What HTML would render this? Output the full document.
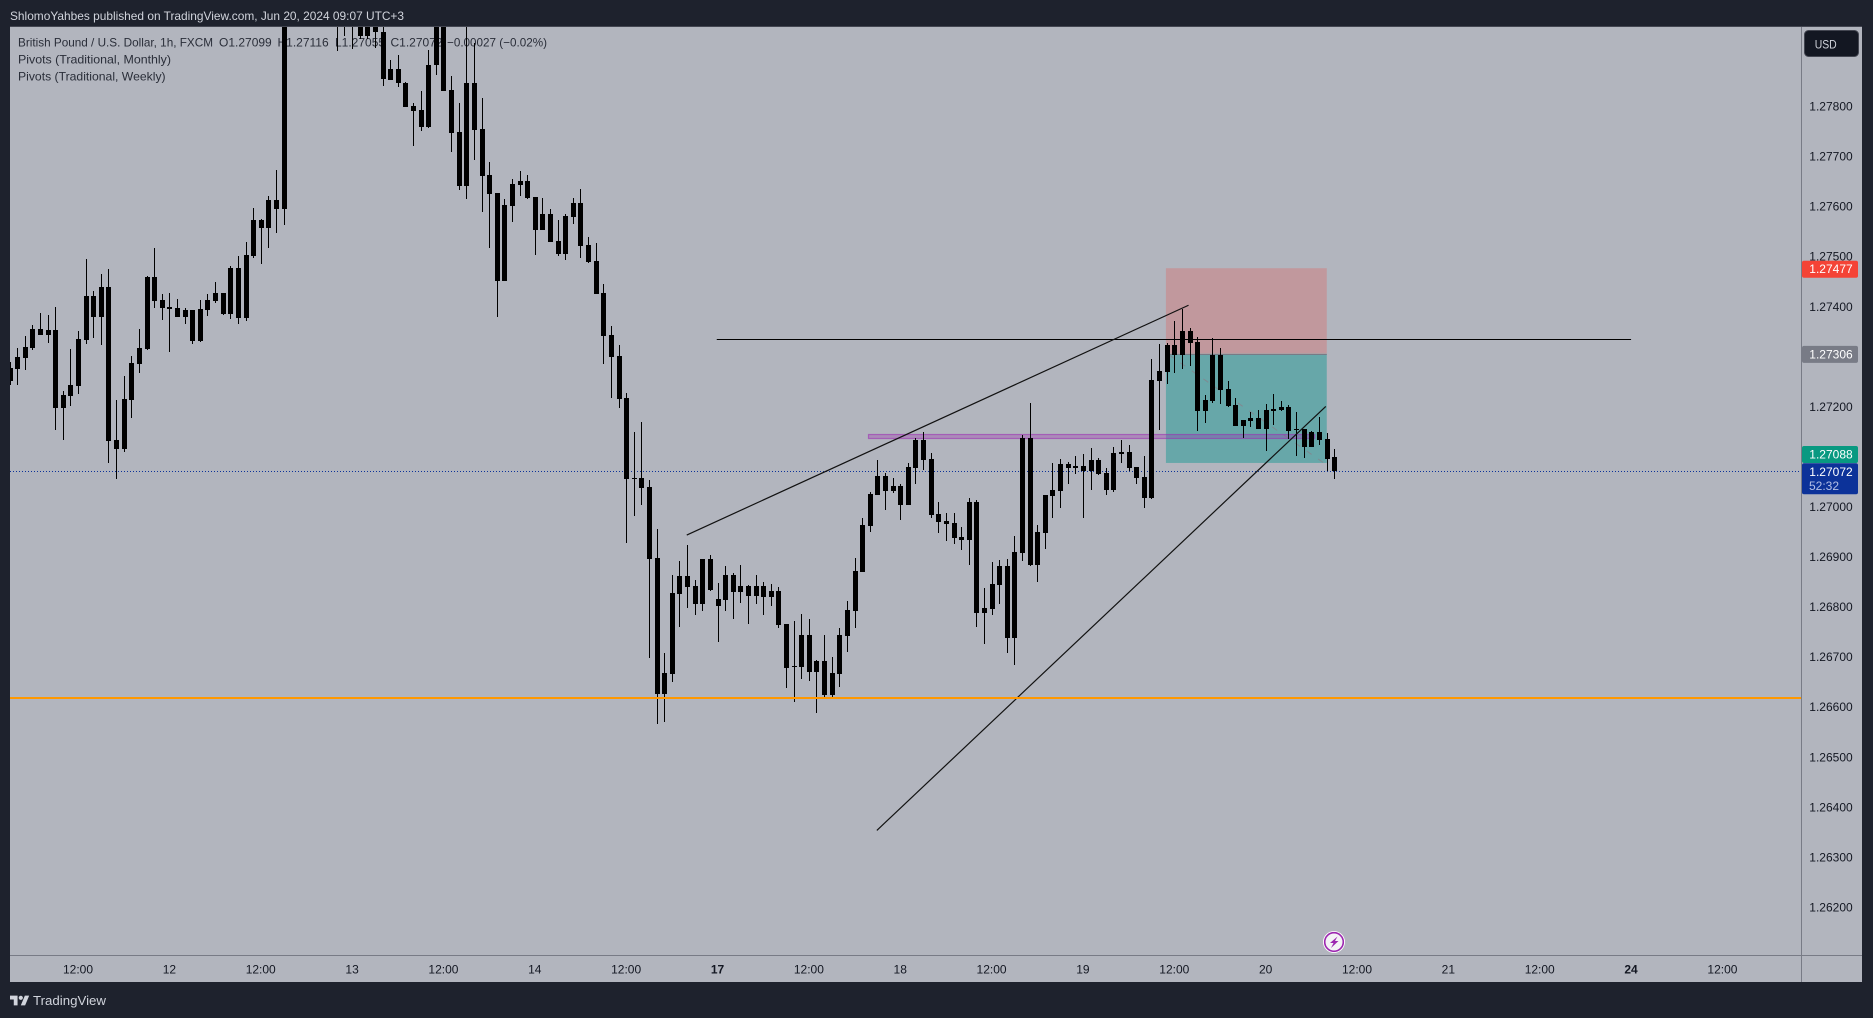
<!DOCTYPE html>
<html lang="en">
<head>
<meta charset="utf-8">
<title>GBPUSD 1h chart</title>
<style>
html,body{margin:0;padding:0;width:1873px;height:1018px;overflow:hidden;background:#1e222d;}
svg{display:block;font-family:"Liberation Sans",sans-serif;}
</style>
</head>
<body>
<svg id="chart" xmlns="http://www.w3.org/2000/svg" width="1873" height="1018" viewBox="0 0 1873 1018">
  <defs><clipPath id="paneClip"><rect x="10" y="27" width="1791" height="928"/></clipPath></defs>
  <rect x="0" y="0" width="1873" height="1018" fill="#1e222d"/>
  <rect x="10" y="27" width="1791" height="928" fill="#b2b5be"/>
  <rect x="1802" y="27" width="60" height="955" fill="#b2b5be"/>
  <rect x="10" y="956" width="1852" height="26" fill="#b2b5be"/>
  <text x="10" y="20" font-size="12" fill="#d1d4dc" textLength="394" lengthAdjust="spacingAndGlyphs">ShlomoYahbes published on TradingView.com, Jun 20, 2024 09:07 UTC+3</text>
  <g font-size="12" fill="#2a2e39">
    <text x="18" y="46.5" textLength="195" lengthAdjust="spacingAndGlyphs">British Pound / U.S. Dollar, 1h, FXCM</text>
    <text x="219" y="46.5">O1.27099</text>
    <text x="277.5" y="46.5">H1.27116</text>
    <text x="335" y="46.5">L1.27055</text>
    <text x="390.5" y="46.5">C1.27072</text>
    <text x="447" y="46.5" textLength="100" lengthAdjust="spacingAndGlyphs">−0.00027 (−0.02%)</text>
    <text x="18" y="63.5" textLength="153" lengthAdjust="spacingAndGlyphs">Pivots (Traditional, Monthly)</text>
    <text x="18" y="80.5" textLength="147.6" lengthAdjust="spacingAndGlyphs">Pivots (Traditional, Weekly)</text>
  </g>
  <g id="drawingsBelow" clip-path="url(#paneClip)"></g>
  <g id="candles" clip-path="url(#paneClip)" shape-rendering="crispEdges"></g>
  <g id="drawingsAbove" clip-path="url(#paneClip)"></g>
  <rect x="1801" y="27" width="1" height="955" fill="#787b86"/>
  <rect x="10" y="955" width="1852" height="1" fill="#787b86"/>
  <rect x="10" y="26" width="1852" height="1" fill="#434651"/>
  <g id="priceLabels" font-size="12" fill="#131722" text-anchor="middle"></g>
  <g id="timeLabels" font-size="12" fill="#131722" text-anchor="middle"></g>
  <g id="tags" font-size="12" text-anchor="middle"></g>
  <g>
    <rect x="1804.5" y="30.5" width="54" height="26" rx="4" fill="#131722" stroke="#434651"/>
    <text x="1814.7" y="48.5" font-size="12" fill="#d1d4dc" textLength="22" lengthAdjust="spacingAndGlyphs">USD</text>
  </g>
  <g>
    <circle cx="1334" cy="942" r="11" fill="#ffffff"/>
    <circle cx="1334" cy="942" r="9.3" fill="#f4f2f6" stroke="#9c27b0" stroke-width="1.6"/>
    <path d="M1337.5 936.5L1330 943H1333.5L1331 948L1338.5 941H1335Z" fill="#9c27b0"/>
  </g>
  <g>
    <path transform="translate(10 993.5) scale(0.54)" d="M14 22H7V11H0V4h14v18zM28 22h-8l7.5-18h8L28 22z" fill="#d1d4dc"/>
    <circle cx="20.8" cy="997.8" r="2.1" fill="#d1d4dc"/>
    <text x="33" y="1005" font-size="13" fill="#d1d4dc" textLength="73" lengthAdjust="spacingAndGlyphs">TradingView</text>
  </g>
</svg>
<script>
const opens = [
1.27252,1.27276,1.27298,1.27318,1.27355,1.27344,1.27353,1.27198,1.27222,1.27242,
1.27334,1.27421,1.2738,1.27439,1.27134,1.27116,1.27214,1.27286,1.27316,1.27459,
1.27413,1.27399,1.27397,1.2738,1.27393,1.27332,1.27394,1.27412,1.27427,1.27386,
1.27477,1.27378,1.27502,1.27573,1.27558,1.27614,1.27596,1.2801,1.2804,1.28075,
1.28045,1.2802,1.2804,1.2801,1.2799,1.27985,1.27975,1.27985,1.27948,1.27949,
1.27853,1.27875,1.27847,1.27801,1.27794,1.2776,1.27882,1.28,1.27833,1.27749,
1.27642,1.27846,1.27755,1.27663,1.27627,1.27452,1.27602,1.27644,1.27651,1.27619,
1.27554,1.27585,1.27531,1.27506,1.2758,1.27607,1.27523,1.27491,1.27427,1.27344,
1.27302,1.27218,1.27057,1.27058,1.2704,1.26898,1.26626,1.26666,1.26826,1.26862,
1.26842,1.26806,1.26896,1.26816,1.26814,1.26864,1.2683,1.26842,1.26822,1.26842,
1.2682,1.26832,1.26766,1.2668,1.2668,1.26744,1.2667,1.26692,1.26624,1.26666,
1.26742,1.26792,1.2687,1.26962,1.27024,1.27062,1.27032,1.27042,1.27004,1.27078,
1.27134,1.27096,1.26986,1.26972,1.26968,1.2694,1.26934,1.2701,1.26788,1.26796,
1.26844,1.26882,1.26738,1.26908,1.27138,1.26884,1.26948,1.27022,1.27032,1.27086,
1.27078,1.27082,1.27072,1.27094,1.27068,1.27034,1.27106,1.2711,1.2708,1.2706,
1.27018,1.27252,1.2727,1.27324,1.27304,1.27352,1.2733,1.27192,1.27212,1.27304,
1.27236,1.27204,1.27162,1.27172,1.27178,1.27156,1.27192,1.27194,1.272,1.27154,
1.27156,1.2712,1.2715,1.27136,1.27099];
const highs = [
1.27289,1.27317,1.27342,1.27363,1.27388,1.27383,1.27399,1.27231,1.27316,1.27352,
1.27495,1.27432,1.27466,1.27475,1.27214,1.27262,1.27302,1.27356,1.27461,1.27518,
1.27426,1.27428,1.27416,1.27397,1.27393,1.27414,1.27426,1.2745,1.27427,1.27482,
1.27502,1.2753,1.27597,1.27575,1.27622,1.27674,1.2804,1.2806,1.2809,1.281,
1.2807,1.2806,1.28065,1.2804,1.2802,1.28005,1.27995,1.28,1.27985,1.27965,
1.27892,1.27902,1.27849,1.27807,1.27832,1.27912,1.2801,1.2802,1.2786,1.27808,
1.27985,1.27927,1.27818,1.2769,1.27627,1.27615,1.27655,1.27671,1.27663,1.27619,
1.27618,1.27595,1.27574,1.27585,1.27617,1.27635,1.27539,1.27527,1.27445,1.27362,
1.27324,1.27228,1.2715,1.2717,1.27054,1.26956,1.26708,1.26864,1.26892,1.26924,
1.26854,1.26896,1.26904,1.26848,1.26882,1.26868,1.26884,1.26844,1.26864,1.2685,
1.26846,1.2684,1.26766,1.26772,1.26786,1.26776,1.26694,1.26744,1.267,1.26758,
1.26812,1.26898,1.26978,1.2703,1.27094,1.27068,1.27058,1.27046,1.27088,1.27138,
1.2715,1.27108,1.2701,1.26988,1.26988,1.2696,1.27018,1.27014,1.26838,1.2689,
1.26894,1.26896,1.26942,1.27144,1.27208,1.26964,1.27024,1.27088,1.27096,1.2709,
1.27102,1.27106,1.27118,1.27098,1.27078,1.2712,1.27134,1.27124,1.2708,1.27102,
1.27296,1.27326,1.27328,1.27372,1.27396,1.27358,1.2734,1.27224,1.27338,1.27318,
1.27252,1.27218,1.27174,1.2719,1.27194,1.27206,1.27226,1.27212,1.27204,1.2719,
1.27156,1.27152,1.2718,1.27148,1.27116];
const lows = [
1.27244,1.27244,1.27274,1.27314,1.27344,1.27328,1.27154,1.27134,1.27202,1.27226,
1.27326,1.27338,1.27324,1.27088,1.27056,1.2711,1.27178,1.27268,1.27314,1.27398,
1.27374,1.2731,1.2738,1.27366,1.27326,1.2733,1.27382,1.27408,1.27384,1.27376,
1.27366,1.27372,1.27498,1.27486,1.27518,1.27548,1.27564,1.27985,1.2802,1.2803,
1.28,1.2799,1.28,1.27911,1.27941,1.27914,1.27934,1.27935,1.27917,1.2784,
1.27852,1.27838,1.278,1.27722,1.27752,1.27758,1.27862,1.27832,1.2771,1.27634,
1.27616,1.27694,1.2759,1.27518,1.2738,1.27452,1.2757,1.27622,1.27616,1.27504,
1.27554,1.2753,1.27502,1.27494,1.27566,1.27498,1.27488,1.27426,1.27286,1.27218,
1.27198,1.26928,1.26982,1.27004,1.26698,1.26566,1.2657,1.2665,1.2676,1.26798,
1.26784,1.26792,1.26832,1.2673,1.26792,1.26776,1.26808,1.26766,1.26806,1.26784,
1.26802,1.26758,1.26638,1.2661,1.26656,1.26652,1.26588,1.26618,1.26618,1.2664,
1.2671,1.26758,1.2687,1.2695,1.27024,1.26994,1.27028,1.26974,1.27004,1.27046,
1.27074,1.26978,1.26948,1.26932,1.26926,1.26914,1.26884,1.2676,1.26726,1.26784,
1.26806,1.26708,1.26684,1.26892,1.26882,1.2685,1.26916,1.26978,1.26998,1.27046,
1.27066,1.26978,1.27034,1.27064,1.27024,1.2703,1.27088,1.27072,1.27046,1.26998,
1.27016,1.27154,1.27246,1.27268,1.27276,1.27282,1.27152,1.27168,1.27208,1.27206,
1.272,1.27162,1.27138,1.2716,1.27156,1.27112,1.27164,1.27192,1.27136,1.27102,
1.27098,1.2712,1.27124,1.27072,1.27055];
const closes = [
1.27277,1.27299,1.27319,1.27355,1.27344,1.27353,1.27198,1.27223,1.27243,1.27335,
1.27421,1.2738,1.27439,1.27132,1.27116,1.27215,1.27287,1.27317,1.27459,1.27412,
1.27398,1.27396,1.2738,1.27393,1.27332,1.27395,1.27413,1.27427,1.27386,1.27477,
1.27378,1.27503,1.27573,1.27558,1.27614,1.27596,1.2801,1.2804,1.28075,1.28045,
1.2802,1.2804,1.2801,1.2799,1.27985,1.27975,1.2794,1.2794,1.27975,1.27854,
1.27875,1.27846,1.278,1.27792,1.2776,1.27883,1.28,1.27832,1.27748,1.27642,
1.27846,1.27754,1.27662,1.27626,1.27452,1.27603,1.27645,1.27651,1.27618,1.27554,
1.27585,1.2753,1.27506,1.27581,1.27607,1.27522,1.2749,1.27426,1.27342,1.273,
1.27216,1.27056,1.27055,1.27038,1.26896,1.26626,1.26668,1.26828,1.26862,1.2684,
1.26806,1.26896,1.26834,1.26802,1.26864,1.2683,1.26842,1.26822,1.26842,1.2682,
1.26832,1.26764,1.26678,1.26682,1.26744,1.2667,1.26692,1.26624,1.26668,1.26744,
1.26794,1.26872,1.26964,1.27026,1.27062,1.27032,1.27042,1.27004,1.2708,1.27134,
1.27094,1.26984,1.2697,1.26966,1.26938,1.26934,1.2701,1.26788,1.26798,1.26846,
1.26882,1.26738,1.2691,1.27138,1.26884,1.2695,1.27024,1.27034,1.27086,1.27078,
1.27082,1.27072,1.27094,1.27066,1.27034,1.27108,1.2711,1.27078,1.27058,1.27018,
1.27254,1.27272,1.27324,1.27304,1.27352,1.27328,1.27192,1.27214,1.27304,1.27234,
1.27202,1.27162,1.27174,1.27178,1.27156,1.27194,1.27196,1.272,1.27152,1.27156,
1.2712,1.2715,1.27134,1.27096,1.27072];
const priceTicks = [1.278,1.277,1.276,1.275,1.274,1.273,1.272,1.271,1.27,1.269,1.268,1.267,1.266,1.265,1.264,1.263,1.262];
const timeLabelBars = [9,21,33,45,57,69,81,93,105,117,129,141,153,165,177,189,201,213,225];
const timeLabelText = ["12:00","12","12:00","13","12:00","14","12:00","17","12:00","18","12:00","19","12:00","20","12:00","21","12:00","24","12:00"];
const boldTimeLabels = ["17","24"];
const stopPrice = 1.27477;
const entryPrice = 1.27306;
const targetPrice = 1.27088;
const lastPrice = 1.27072;
const countdownText = "52:32";
const positionBars = [151.9, 173.03];
const resistancePrice = 1.27335;
const resistanceBars = [92.9, 213];
const pivotBandPrices = [1.27144, 1.27136];
const pivotBandBars = [112.8, 171.4];
const supportPrice = 1.26618;
const upperTrendBars = [88.96, 154.87];
const upperTrendPrices = [1.26944, 1.27403];
const lowerTrendBars = [113.93, 172.9];
const lowerTrendPrices = [1.26354, 1.27201];

const xOf = function (bar) { return 9.5 + bar * 7.613; };
const yOf = function (price) { return 507 + (1.27 - price) * 50060; };
const NS = 'http://www.w3.org/2000/svg';
function mk(parent, tag, attrs) {
  const el = document.createElementNS(NS, tag);
  for (const k in attrs) el.setAttribute(k, attrs[k]);
  parent.appendChild(el);
  return el;
}

const below = document.getElementById('drawingsBelow');
const above = document.getElementById('drawingsAbove');
const candleGroup = document.getElementById('candles');

// long position tool
const boxL = xOf(positionBars[0]);
const boxR = xOf(positionBars[1]);
const stopBox = mk(below, 'rect', {x: boxL, y: yOf(stopPrice), width: boxR - boxL, height: yOf(entryPrice) - yOf(stopPrice), fill: '#c1989d'});


const targetBox = mk(below, 'rect', {x: boxL, y: yOf(entryPrice), width: boxR - boxL, height: yOf(targetPrice) - yOf(entryPrice), fill: '#67a7a9'});


const entryLine = mk(below, 'rect', {x: boxL, y: Math.round(yOf(entryPrice)), width: boxR - boxL, height: 1, fill: '#787b86'});


const pathLine = mk(below, 'line', {x1: boxL + 3, y1: yOf(entryPrice) + 1, x2: boxR - 3, y2: yOf(targetPrice), stroke: '#7f8a92', 'stroke-width': 1, 'stroke-dasharray': '6 8'});



// last price dotted line
const lastLine = mk(below, 'line', {x1: 10, x2: 1799, y1: Math.round(yOf(lastPrice)) + 0.5, y2: Math.round(yOf(lastPrice)) + 0.5, stroke: '#0c3299', 'stroke-width': 1, 'stroke-dasharray': '1 2'});



// pivot band
const band = mk(below, 'rect', {x: Math.round(xOf(pivotBandBars[0])) + 0.5, y: Math.floor(yOf(pivotBandPrices[0])) + 0.5, width: xOf(pivotBandBars[1]) - xOf(pivotBandBars[0]), height: yOf(pivotBandPrices[1]) - yOf(pivotBandPrices[0]), fill: 'rgba(156,39,176,0.3)', stroke: 'rgba(156,39,176,0.55)', 'stroke-width': 1.2});



// candles
for (let i = 0; i < opens.length; i++) {
  const cx = Math.round(xOf(i));
  const top = Math.round(yOf(Math.max(opens[i], closes[i])));
  const bot = Math.round(yOf(Math.min(opens[i], closes[i])));
  const wt = Math.round(yOf(highs[i]));
  const wb = Math.round(yOf(lows[i]));
  const wick = mk(candleGroup, 'rect', {x: cx, y: wt, width: 1, height: Math.max(1, wb - wt), fill: '#000'});
  
  
  const body = mk(candleGroup, 'rect', {x: cx - 2, y: top, width: 5, height: Math.max(1, bot - top), fill: '#000'});
  
  
}

// lines above candles
const resistance = mk(above, 'rect', {x: xOf(resistanceBars[0]), y: Math.floor(yOf(resistancePrice)), width: xOf(resistanceBars[1]) - xOf(resistanceBars[0]), height: 1, fill: '#000'});


const upperTrend = mk(above, 'line', {x1: xOf(upperTrendBars[0]), y1: yOf(upperTrendPrices[0]), x2: xOf(upperTrendBars[1]), y2: yOf(upperTrendPrices[1]), stroke: '#111', 'stroke-width': 1.2});


const lowerTrend = mk(above, 'line', {x1: xOf(lowerTrendBars[0]), y1: yOf(lowerTrendPrices[0]), x2: xOf(lowerTrendBars[1]), y2: yOf(lowerTrendPrices[1]), stroke: '#111', 'stroke-width': 1.2});


const support = mk(above, 'rect', {x: 10, y: Math.round(yOf(supportPrice)) - 1, width: 1791, height: 2, fill: '#ff9800'});



// price ticks
const priceLabelGroup = document.getElementById('priceLabels');
priceTicks.forEach(function (p) {
  const t = mk(priceLabelGroup, 'text', {x: 1831, y: yOf(p) + 4});
  
  
  t.textContent = p.toFixed(5);
});

// time ticks
const timeLabelGroup = document.getElementById('timeLabels');
timeLabelBars.forEach(function (bar, k) {
  const t = mk(timeLabelGroup, 'text', {x: xOf(bar), y: 973.5});
  
  
  if (boldTimeLabels.indexOf(timeLabelText[k]) >= 0) t.setAttribute('font-weight', 'bold');
  t.textContent = timeLabelText[k];
});

// price tags
const tagGroup = document.getElementById('tags');
function tag(name, price, cy, h, color) {
  const r = mk(tagGroup, 'rect', {x: 1802, y: cy - 8.5, width: 56, height: h, rx: 2, fill: color});
  
  
  const t = mk(tagGroup, 'text', {x: 1831, y: cy + 4, fill: '#ffffff'});
  
  
  t.textContent = price.toFixed(5);
}
tag('stop-price-tag', stopPrice, yOf(stopPrice) + 1, 17, '#f44336');
tag('entry-price-tag', entryPrice, yOf(entryPrice) + 0.5, 17, '#787b86');
tag('target-price-tag', targetPrice, yOf(targetPrice) - 8.5, 17, '#089981');
tag('last-price-tag', lastPrice, yOf(lastPrice) + 0.8, 31, '#0c3299');
const countdown = mk(tagGroup, 'text', {x: 1824, y: 490, fill: '#b3bfe6'});


countdown.textContent = countdownText;
</script>
</body>
</html>
